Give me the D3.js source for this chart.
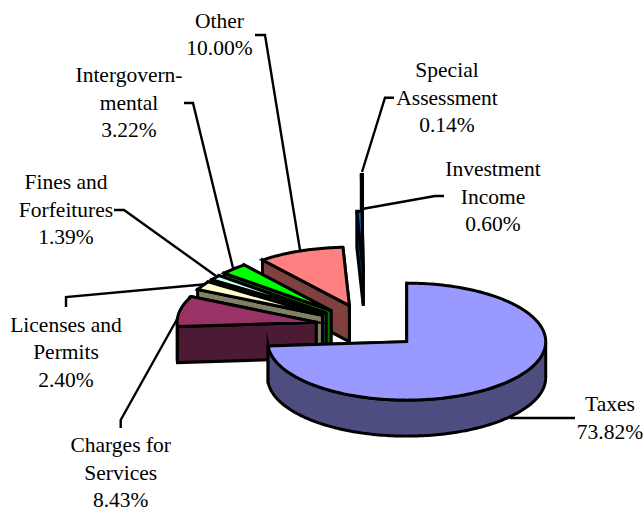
<!DOCTYPE html>
<html>
<head>
<meta charset="utf-8">
<script src="https://cdn.jsdelivr.net/npm/d3@7"></script>
<style>
    html, body { margin: 0; padding: 0; background: #fff; }
    svg { display: block; }
    text { font-family: "Liberation Serif", serif; font-size: 21.5px; fill: #000; }
</style>
</head>
<body>
<svg id="chart"></svg>
<script>
// Values, clockwise from 12 o'clock
const categories = ["Taxes", "Charges for Services", "Licenses and Permits", "Fines and Forfeitures",
    "Intergovernmental", "Other", "Investment Income", "Special Assessment"];
const percents = [73.82, 8.43, 2.40, 1.39, 3.22, 10.00, 0.60, 0.14];
const percentLabels = ["73.82%", "8.43%", "2.40%", "1.39%", "3.22%", "10.00%", "0.60%", "0.14%"];
const labelLines = [
    ["Taxes"],
    ["Charges for", "Services"],
    ["Licenses and", "Permits"],
    ["Fines and", "Forfeitures"],
    ["Intergovern-", "mental"],
    ["Other"],
    ["Investment", "Income"],
    ["Special", "Assessment"]
];

const width = 643;
const height = 512;

// pie geometry
const cx = 368;
const cy = 326.5;
const rx = 139;
const ry = 58.5;
const depth = 36;

// how far each slice is pulled out, as fraction of the radius
const explode = [0.38, 0.38, 0.38, 0.38, 0.38, 0.38, 0.97, 1.6];
const nudgeX = [0, 0, 0, 0, 0, 0, -1, -4.5];
const topColors = ["#9999ff", "#993366", "#ffffcc", "#ccffff", "#00ff00", "#ff8080", "#0066cc", "#000080"];
const wallColors = ["#4d4d80", "#4d1a33", "#808066", "#666680", "#008000", "#804040", "#003366", "#000040"];

// label block centre x / first baseline, and leader line: text end -> elbow -> slice
const labelPos = [[610, 411], [120.7, 452], [66, 331.7], [66, 189], [129, 82], [219.5, 27.5], [493, 176], [447, 77]];
const leaders = [
    [[575, 418], [510, 418]],
    [[120.7, 428], [120.7, 420], [190, 296]],
    [[66, 307], [66, 297], [208, 284]],
    [[114, 210], [124, 210], [216, 276]],
    [[184, 103], [193, 103], [233, 268]],
    [[255, 35], [265, 35], [300, 250]],
    [[444, 196], [435, 196], [362, 209]],
    [[394, 97.7], [385, 97.7], [362, 172]]
];

const svg = d3.select("#chart")
    .attr("width", width)
    .attr("height", height)
    .attr("viewBox", `0 0 ${width} ${height}`);

const pie = d3.pie().sort(null).value(d => d);
const arcs = pie(percents);
const line = d3.line();

function center(i) {
    const mid = (arcs[i].startAngle + arcs[i].endAngle) / 2;
    return [
        cx + explode[i] * rx * Math.sin(mid) + nudgeX[i],
        cy - explode[i] * ry * Math.cos(mid)
    ];
}

function outer(c, a, dy = 0) {
    return [c[0] + rx * Math.sin(a), c[1] - ry * Math.cos(a) + dy];
}

function arcPoints(c, a0, a1, dy = 0) {
    const n = Math.max(2, Math.ceil(Math.abs(a1 - a0) / 0.02));
    return d3.range(n + 1).map(k => outer(c, a0 + (a1 - a0) * k / n, dy));
}

const marks = svg.append("g")
    .attr("stroke", "#000")
    .attr("stroke-width", 3)
    .attr("stroke-linejoin", "miter")
    .attr("stroke-miterlimit", 12);

// leader lines sit under the pie
svg.insert("g", "g")
    .attr("fill", "none")
    .attr("stroke", "#000")
    .attr("stroke-width", 2.4)
    .selectAll("path")
    .data(leaders)
    .join("path")
    .attr("d", line);

// back to front
const drawOrder = [7, 6, 5, 4, 3, 2, 1, 0];

drawOrder.forEach(i => {
    const a0 = arcs[i].startAngle;
    const a1 = arcs[i].endAngle;
    const c = center(i);
    const below = [c[0], c[1] + depth];
    const g = marks.append("g");

    // side walls, the hidden one gets covered by what follows
    [a1, a0].forEach(a => {
        g.append("path")
            .attr("fill", wallColors[i])
            .attr("d", line([c, outer(c, a), outer(c, a, depth), below]) + "Z");
    });

    // rim, only the part of the arc that faces the viewer
    const rimStart = Math.max(a0, Math.PI / 2);
    const rimEnd = Math.min(a1, Math.PI * 1.5);
    if (rimEnd > rimStart) {
        const rim = arcPoints(c, rimStart, rimEnd).concat(arcPoints(c, rimEnd, rimStart, depth));
        g.append("path")
            .attr("fill", wallColors[i])
            .attr("d", line(rim) + "Z");
    }

    // top face
    g.append("path")
        .attr("fill", topColors[i])
        .attr("d", line([c].concat(arcPoints(c, a0, a1))) + "Z");
});

// labels
const lineHeight = 27.6;
const labels = svg.append("g")
    .attr("text-anchor", "middle")
    .selectAll("text")
    .data(categories)
    .join("text")
    .attr("transform", (d, i) => `translate(${labelPos[i][0]},${labelPos[i][1]})`);

labels.each(function (d, i) {
    const t = d3.select(this);
    labelLines[i].concat(percentLabels[i]).forEach((s, k) => {
        t.append("tspan").attr("x", 0).attr("y", k * lineHeight).text(s);
    });
});
</script>
</body>
</html>
